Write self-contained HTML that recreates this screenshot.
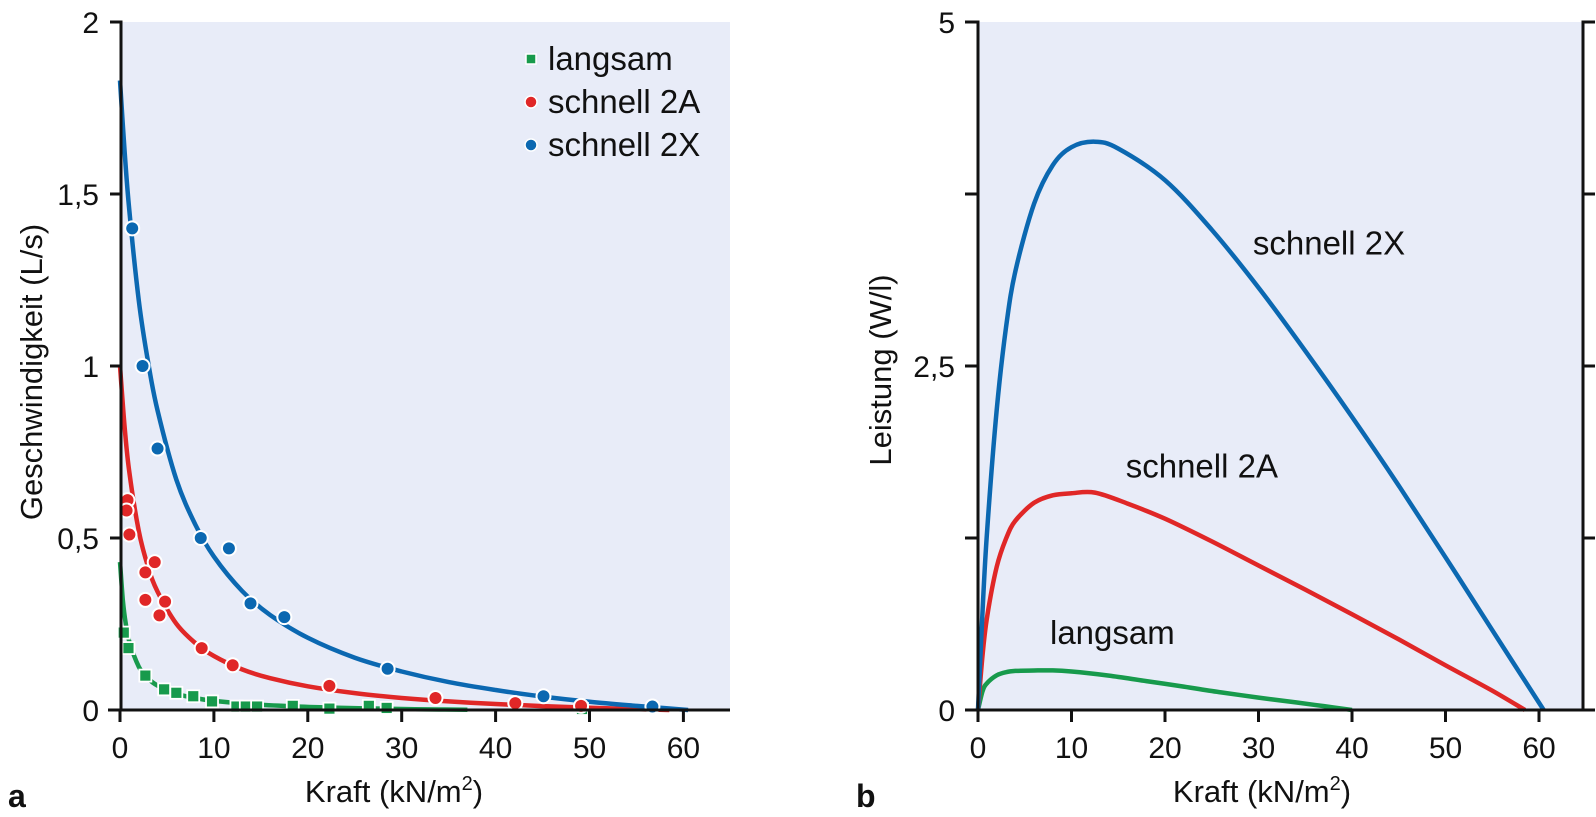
<!DOCTYPE html>
<html><head><meta charset="utf-8">
<style>
html,body{margin:0;padding:0;background:#fff;}
svg{display:block;font-family:"Liberation Sans",sans-serif;}
</style></head>
<body>
<svg id="fig" width="1596" height="817" viewBox="0 0 1596 817" xmlns="http://www.w3.org/2000/svg"></svg>
<script>
// ---------- data: panel a (speed vs force) ----------
const xTicksA = [0,10,20,30,40,50,60];
const yTicksA = [0,0.5,1,1.5,2];
const yTickLabelsA = ["0","0,5","1","1,5","2"];
const seriesNames = ["langsam","schnell 2A","schnell 2X"];
const seriesColors = ["#179a4c","#e02727","#0b68b1"];

const slowPtsX = [0.4,0.9,2.7,4.7,6.0,7.8,9.8,12.4,13.4,14.6,18.4,22.3,26.5,28.4,49.2];
const slowPtsY = [0.225,0.18,0.10,0.06,0.05,0.04,0.025,0.01,0.01,0.01,0.012,0.004,0.012,0.006,0.003];
const fastAPtsX = [0.8,0.7,1.0,2.7,2.7,3.7,4.2,4.8,8.7,12.0,22.3,33.6,42.1,49.1];
const fastAPtsY = [0.61,0.58,0.51,0.40,0.32,0.43,0.275,0.315,0.18,0.13,0.07,0.035,0.02,0.012];
const fastXPtsX = [1.3,2.4,4.0,8.6,11.6,13.9,17.5,28.5,45.1,56.7];
const fastXPtsY = [1.40,1.0,0.76,0.50,0.47,0.31,0.27,0.12,0.04,0.01];

const slowCurveX = [0,0.3,0.6,1,2,3,4,6,8,10,14,18,22,26,30,34,37];
const slowCurveY = [0.43,0.32,0.254,0.198,0.126,0.0915,0.071,0.0475,0.0347,0.0265,0.0168,0.0112,0.0074,0.0047,0.0028,0.0015,0.0007];
const fastACurveX = [0,0.5,1,2,3,4,6,8,10,13,16,20,25,30,35,40,45,50,55,58.5];
const fastACurveY = [1.0,0.82,0.69,0.52,0.415,0.344,0.251,0.195,0.157,0.118,0.0925,0.069,0.049,0.035,0.025,0.0174,0.0114,0.0065,0.0025,0];
const fastXCurveX = [0,0.5,1,2,3,4,6,8,10,13,16,20,25,30,35,40,45,50,55,60.5];
const fastXCurveY = [1.83,1.62,1.45,1.19,1.01,0.87,0.67,0.54,0.446,0.346,0.276,0.21,0.152,0.112,0.081,0.058,0.039,0.024,0.012,0];

// ---------- data: panel b (power vs force) ----------
const xTicksB = [0,10,20,30,40,50,60];
const yTicksB = [0,1.25,2.5,3.75,5];
const yTickLabelsB = ["0","","2,5","","5"];
const slowPowX = [0,0.5,1,2,3,4,6,8,10,14,18,22,26,30,34,37,40];
const slowPowY = [0,0.14,0.198,0.252,0.275,0.284,0.287,0.288,0.28,0.25,0.21,0.17,0.128,0.09,0.055,0.028,0];
const fastAPowX = [0,0.5,1,2,3,4,6,8,10,12.5,16,20,25,30,35,40,45,50,55,58.5];
const fastAPowY = [0,0.41,0.69,1.04,1.245,1.376,1.506,1.56,1.575,1.58,1.5,1.39,1.225,1.05,0.875,0.696,0.513,0.325,0.14,0];
const fastXPowX = [0,0.5,1,2,3,4,6,8,10,12.5,15,20,25,30,35,40,45,50,55,60.5];
const fastXPowY = [0,0.74,1.33,2.18,2.78,3.19,3.68,3.96,4.09,4.13,4.08,3.85,3.49,3.07,2.61,2.13,1.63,1.11,0.58,0];
const curveLabels = ["langsam","schnell 2A","schnell 2X"];
const curveLabelX = [7.7,15.8,29.4];
const curveLabelY = [0.48,1.69,3.31];

// ---------- helpers ----------
const NS = "http://www.w3.org/2000/svg";
const svg = document.getElementById("fig");
function mk(tag, attrs, parent){
  const e = document.createElementNS(NS, tag);
  for (const k in attrs) e.setAttribute(k, attrs[k]);
  (parent||svg).appendChild(e);
  return e;
}
const axA = { x:v => 120 + v*9.39, y:v => 710 - v*344 };
const axB = { x:v => 978 + v*9.35, y:v => 710 - v*137.6 };
function pathD(ax, xs, ys){
  const P = xs.map((x,i)=>[ax.x(x), ax.y(ys[i])]);
  let d = "M"+P[0][0].toFixed(1)+","+P[0][1].toFixed(1);
  for (let i=0;i<P.length-1;i++){
    const p0=P[Math.max(0,i-1)], p1=P[i], p2=P[i+1], p3=P[Math.min(P.length-1,i+2)];
    const c1=[p1[0]+(p2[0]-p0[0])/6, p1[1]+(p2[1]-p0[1])/6];
    const c2=[p2[0]-(p3[0]-p1[0])/6, p2[1]-(p3[1]-p1[1])/6];
    d += " C"+c1[0].toFixed(1)+","+c1[1].toFixed(1)+" "+c2[0].toFixed(1)+","+c2[1].toFixed(1)+" "+p2[0].toFixed(1)+","+p2[1].toFixed(1);
  }
  return d;
}

// ---------- panel a ----------
const gA = mk("g",{});


let bg = mk("rect",{x:121,y:22,width:609,height:688,fill:"#e8ecf8"},gA);



const curvesA = [[slowCurveX,slowCurveY],[fastACurveX,fastACurveY],[fastXCurveX,fastXCurveY]];
curvesA.forEach((c,i)=>{
  const p = mk("path",{d:pathD(axA,c[0],c[1]),fill:"none",stroke:seriesColors[i],"stroke-width":4.5,"stroke-linejoin":"round"},gA);
  
  
});
slowPtsX.forEach((x,i)=>{
  const r = mk("rect",{x:axA.x(x)-6,y:axA.y(slowPtsY[i])-6,width:12,height:12,fill:seriesColors[0],stroke:"#fff","stroke-width":1.8},gA);
  
  
});
[[fastAPtsX,fastAPtsY,1],[fastXPtsX,fastXPtsY,2]].forEach(s=>{
  s[0].forEach((x,i)=>{
    const c = mk("circle",{cx:axA.x(x),cy:axA.y(s[1][i]),r:7,fill:seriesColors[s[2]],stroke:"#fff","stroke-width":2},gA);
    
    
  });
});
let axl = mk("path",{d:"M110,22 H121 V710 M108,710 H730",fill:"none",stroke:"#111","stroke-width":3},gA);


yTicksA.forEach((v,i)=>{
  const t = mk("line",{x1:110,x2:121,y1:axA.y(v),y2:axA.y(v),stroke:"#111","stroke-width":3},gA);
  
  
  const l = mk("text",{x:99,y:axA.y(v)+11,"text-anchor":"end","font-size":30,fill:"#111"},gA);
  l.textContent = yTickLabelsA[i];
  
  
});
xTicksA.forEach(v=>{
  const t = mk("line",{x1:axA.x(v),x2:axA.x(v),y1:710,y2:722,stroke:"#111","stroke-width":3},gA);
  
  
  const l = mk("text",{x:axA.x(v),y:758,"text-anchor":"middle","font-size":30,fill:"#111"},gA);
  l.textContent = String(v);
  
  
});
let yt = mk("text",{x:0,y:0,"text-anchor":"middle","font-size":31,fill:"#111",transform:"translate(42,372) rotate(-90)"},gA);
yt.textContent = "Geschwindigkeit (L/s)";


let xt = mk("text",{x:394,y:802,"text-anchor":"middle","font-size":31,fill:"#111"},gA);
xt.innerHTML = 'Kraft (kN/m<tspan dy="-12" font-size="20">2</tspan><tspan dy="12">)</tspan>';


let pa = mk("text",{x:8,y:807,"font-size":32,"font-weight":"bold",fill:"#111"},gA);
pa.textContent = "a";


const legY = [59,102,145];
seriesNames.forEach((n,i)=>{
  let m;
  if (i===0) m = mk("rect",{x:526,y:legY[i]-5,width:10,height:10,fill:seriesColors[0],stroke:"#fff","stroke-width":1.5},gA);
  else m = mk("circle",{cx:531,cy:legY[i],r:6,fill:seriesColors[i],stroke:"#fff","stroke-width":1.5},gA);
  
  
  const t = mk("text",{x:548,y:legY[i]+11,"font-size":33,fill:"#111"},gA);
  t.textContent = n;
  
  
});

// ---------- panel b ----------
const gB = mk("g",{});


let bgB = mk("rect",{x:978,y:22,width:605,height:688,fill:"#e8ecf8"},gB);


const curvesB = [[slowPowX,slowPowY],[fastAPowX,fastAPowY],[fastXPowX,fastXPowY]];
curvesB.forEach((c,i)=>{
  const p = mk("path",{d:pathD(axB,c[0],c[1]),fill:"none",stroke:seriesColors[i],"stroke-width":4.5,"stroke-linejoin":"round"},gB);
  
  
});
let axr = mk("path",{d:"M965,22 H978 V710 M965,710 H1595 M1583,710 V22 H1595",fill:"none",stroke:"#111","stroke-width":3},gB);


yTicksB.forEach((v,i)=>{
  const t = mk("line",{x1:965,x2:978,y1:axB.y(v),y2:axB.y(v),stroke:"#111","stroke-width":3},gB);
  
  
  const t2 = mk("line",{x1:1583,x2:1595,y1:axB.y(v),y2:axB.y(v),stroke:"#111","stroke-width":3},gB);
  
  
  if (yTickLabelsB[i]) {
    const l = mk("text",{x:955,y:axB.y(v)+11,"text-anchor":"end","font-size":30,fill:"#111"},gB);
    l.textContent = yTickLabelsB[i];
    
    
  }
});
xTicksB.forEach(v=>{
  const t = mk("line",{x1:axB.x(v),x2:axB.x(v),y1:710,y2:722,stroke:"#111","stroke-width":3},gB);
  
  
  const l = mk("text",{x:axB.x(v),y:758,"text-anchor":"middle","font-size":30,fill:"#111"},gB);
  l.textContent = String(v);
  
  
});
curveLabels.forEach((n,i)=>{
  const t = mk("text",{x:axB.x(curveLabelX[i]),y:axB.y(curveLabelY[i]),"font-size":33,fill:"#111"},gB);
  t.textContent = n;
  
  
});
let ytB = mk("text",{x:0,y:0,"text-anchor":"middle","font-size":31,fill:"#111",transform:"translate(891,370) rotate(-90)"},gB);
ytB.textContent = "Leistung (W/l)";


let xtB = mk("text",{x:1262,y:802,"text-anchor":"middle","font-size":31,fill:"#111"},gB);
xtB.innerHTML = 'Kraft (kN/m<tspan dy="-12" font-size="20">2</tspan><tspan dy="12">)</tspan>';


let pb = mk("text",{x:856,y:807,"font-size":32,"font-weight":"bold",fill:"#111"},gB);
pb.textContent = "b";


</script>
</body></html>
